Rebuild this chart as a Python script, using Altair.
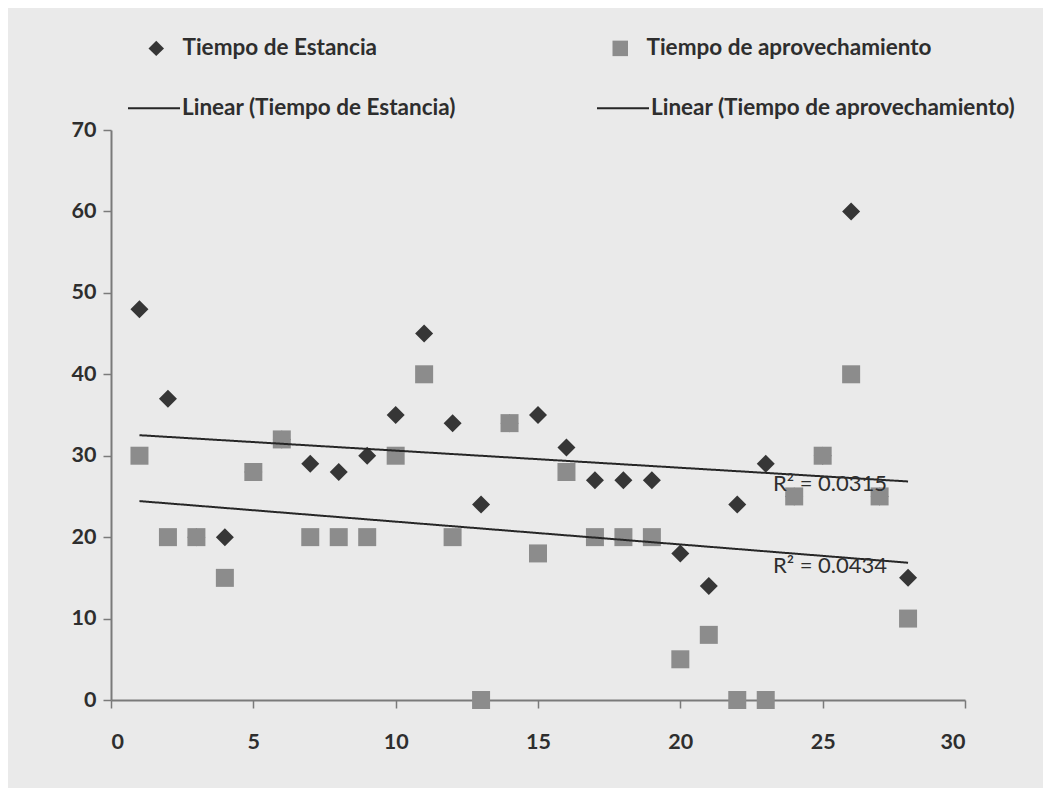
import altair as alt
import pandas as pd

# ---- data ----
x_vals = list(range(1, 29))
estancia = [48, 37, 20, 20, 28, 32, 29, 28, 30, 35, 45, 34, 24, 34,
            35, 31, 27, 27, 27, 18, 14, 24, 29, 25, 30, 60, 25, 15]
aprov = [30, 20, 20, 15, 28, 32, 20, 20, 20, 30, 40, 20, 0, 34,
         18, 28, 20, 20, 20, 5, 8, 0, 0, 25, 30, 40, 25, 10]
series_names = ["Tiempo de Estancia", "Tiempo de aprovechamiento"]
trend_names = ["Linear (Tiempo de Estancia)", "Linear (Tiempo de aprovechamiento)"]
x_ticks = [0, 5, 10, 15, 20, 25, 30]
y_ticks = [0, 10, 20, 30, 40, 50, 60, 70]

rows = []
for s, vals in zip(series_names, [estancia, aprov]):
    for xv, yv in zip(x_vals, vals):
        rows.append({"x": xv, "y": yv, "series": s})
df = pd.DataFrame(rows)
x_end = max(x_vals)

FONT = "Lato"
INK = "#2e2e2e"
AXIS = "#7a7a7a"

xs = alt.Scale(domain=[0, 30], nice=False)
ys = alt.Scale(domain=[0, 70], nice=False)

base = alt.Chart(df)

point_legend = alt.Legend(title=None, orient="none", direction="horizontal",
                          legendX=34, legendY=-93, padding=0,
                          symbolSize=240, labelOffset=15,
                          columnPadding=231, labelFont=FONT,
                          labelFontWeight="bold", labelFontSize=22.5,
                          labelColor=INK, labelLimit=600)

points = base.mark_point(filled=True, opacity=1, size=324, strokeWidth=0).encode(
    x=alt.X("x:Q", scale=xs, axis=alt.Axis(values=x_ticks, title=None)),
    y=alt.Y("y:Q", scale=ys, axis=alt.Axis(values=y_ticks, title=None)),
    color=alt.Color("series:N",
                    scale=alt.Scale(domain=series_names, range=["#363636", "#8c8c8c"]),
                    legend=point_legend),
    shape=alt.Shape("series:N",
                    scale=alt.Scale(domain=series_names, range=["diamond", "square"]),
                    legend=point_legend),
)

lines = base.transform_regression(
    "x", "y", groupby=["series"]
).transform_calculate(
    trend="'Linear (' + datum.series + ')'"
).mark_line(color="#262626", strokeWidth=2).encode(
    x=alt.X("x:Q", scale=xs),
    y=alt.Y("y:Q", scale=ys),
    detail="series:N",
    strokeDash=alt.StrokeDash("trend:N",
                              scale=alt.Scale(domain=trend_names, range=[[1, 0], [1, 0]]),
                              legend=alt.Legend(title=None, orient="none", direction="horizontal",
                                                legendX=16, legendY=-49, padding=0,
                                                symbolType="stroke", symbolSize=2704,
                                                symbolStrokeColor="#262626",
                                                symbolStrokeWidth=2, labelOffset=1,
                                                columnPadding=137, labelFont=FONT,
                                                labelFontWeight="bold", labelFontSize=22.5,
                                                labelColor=INK, labelLimit=600)),
)

r2 = base.transform_regression(
    "x", "y", groupby=["series"], params=True
).transform_calculate(
    xe=str(x_end),
    ye=f"datum.coef[0] + datum.coef[1] * {x_end}",
    label="'R\u00b2 = ' + format(datum.rSquared, '.4f')",
).mark_text(align="right", baseline="middle", dx=-21, dy=3, font=FONT,
            fontSize=22, color=INK).encode(
    x=alt.X("xe:Q", scale=xs),
    y=alt.Y("ye:Q", scale=ys),
    text="label:N",
)

chart = alt.layer(points, lines, r2).properties(
    width=854, height=570,
    autosize=alt.AutoSizeParams(type="none"),
    padding={"left": 103, "top": 122, "right": 78, "bottom": 88},
    background="#eaeaea",
).configure_view(
    stroke=None
).configure_axis(
    grid=False,
    domainColor=AXIS, domainWidth=2,
    tickColor=AXIS, tickWidth=1.5, tickSize=8,
    labelFont=FONT, labelFontWeight="bold", labelFontSize=21.5, labelColor=INK,
).configure_axisX(
    labelPadding=23,
).configure_axisY(
    labelPadding=7,
)

chart.save("out.html", embed_options={"renderer": "svg", "actions": False})
